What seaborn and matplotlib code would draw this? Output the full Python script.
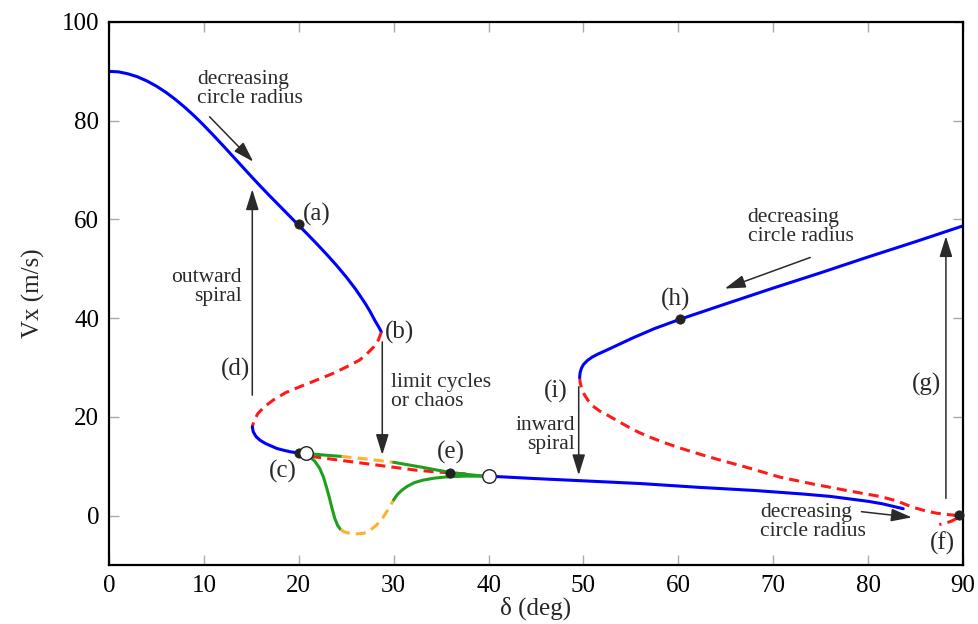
import matplotlib
matplotlib.use("Agg")
import matplotlib.pyplot as plt
import seaborn as sns
import pandas as pd

# ---------------- data ----------------
# upper-left stable branch (blue), delta from 0 to point (b)
up_left_x = [0, 1, 2, 3, 4, 5, 6, 7, 8, 9, 10, 11, 12, 13, 14, 15, 16, 17, 18, 19, 20,
             21, 22, 23, 24, 25, 26, 27, 27.5, 28, 28.4, 28.6, 28.7]
up_left_y = [90.0, 89.9, 89.5, 88.9, 88.05, 87.0, 85.75, 84.3, 82.7, 80.95, 79.05, 77.05,
             75.0, 72.9, 70.8, 68.7, 66.65, 64.65, 62.7, 60.75, 58.8, 56.85, 54.85, 52.8,
             50.65, 48.35, 45.85, 43.0, 41.4, 39.6, 38.3, 37.6, 37.2]

# unstable middle branch (red dashed) from (b) back to the fold near 15 deg
mid_red_x = [28.7, 28.4, 27.9, 27.2, 26.4, 25.0, 23.6, 21.8, 20.1, 18.6, 17.3, 16.4, 15.7, 15.3, 15.1]
mid_red_y = [37.2, 35.6, 34.2, 32.8, 31.5, 30.1, 28.8, 27.4, 26.1, 24.9, 23.4, 22.1, 20.7, 19.3, 18.0]

# lower-left stable part (blue) from the fold to (c)
low_left_x = [15.1, 15.2, 15.5, 15.9, 16.5, 17.1, 17.7, 18.5, 19.2, 20.0]
low_left_y = [18.0, 17.0, 16.0, 15.3, 14.6, 14.1, 13.6, 13.2, 12.9, 12.7]

# periodic-orbit branches (green solid / orange dashed)
po_up_green1_x = [20.8, 22.5, 24.5]
po_up_green1_y = [12.6, 12.3, 12.0]
po_up_orange_x = [24.5, 27.0, 30.0]
po_up_orange_y = [12.0, 11.5, 10.8]
po_up_green2_x = [30.0, 31.5, 33.0, 34.5, 36.0, 37.0, 38.0, 39.0, 40.0]
po_up_green2_y = [10.8, 10.3, 9.8, 9.25, 8.75, 8.5, 8.3, 8.1, 8.0]

po_low_green1_x = [20.8, 21.2, 21.7, 22.2, 22.6, 22.9, 23.2, 23.5, 23.8, 24.1, 24.4]
po_low_green1_y = [12.6, 11.9, 11.0, 9.6, 7.8, 5.9, 3.8, 1.5, -0.6, -2.0, -2.8]
po_low_orange_x = [24.4, 24.8, 25.4, 26.1, 26.8, 27.5, 28.2, 28.9, 29.5, 30.0]
po_low_orange_y = [-2.8, -3.3, -3.6, -3.7, -3.6, -3.0, -1.9, -0.3, 1.5, 3.2]
po_low_green2_x = [30.0, 30.4, 30.9, 31.4, 32.2, 33.1, 34.3, 35.6, 37.5, 40.0]
po_low_green2_y = [3.2, 4.3, 5.2, 5.9, 6.7, 7.2, 7.6, 7.85, 8.0, 8.0]

# unstable branch (red dashed) between (c) and (e)
ce_red_x = [21.3, 24.0, 26.8, 29.6, 32.4, 35.2, 38.0]
ce_red_y = [12.0, 11.3, 10.6, 9.9, 9.2, 8.75, 8.4]

# lower-right stable branch (blue)
low_right_x = [40, 45, 50, 56, 62, 68, 73, 76, 78, 80, 81.5, 83.7]
low_right_y = [8.0, 7.5, 7.05, 6.5, 5.75, 5.1, 4.4, 3.9, 3.4, 2.9, 2.4, 1.4]

# unstable right branch (red dashed) from (i) to (f)
right_red_x = [49.6, 49.65, 49.8, 50.1, 50.5, 51.0, 51.7, 52.4, 53.5, 54.6, 55.8, 57.0, 58.5,
               60.0, 62.0, 64.5, 67.0, 70.7, 74.2, 78.0, 81.2, 83.0, 84.7, 86.0, 87.2, 88.5,
               89.6, 89.3, 88.8, 88.2, 87.5]
right_red_y = [28.0, 27.0, 25.8, 24.5, 23.3, 22.2, 21.2, 20.5, 19.3, 18.1, 16.9, 15.9, 14.8,
               13.8, 12.6, 11.2, 9.9, 7.8, 6.4, 5.0, 3.9, 3.0, 1.7, 1.0, 0.5, 0.2,
               0.0, -0.6, -1.1, -1.5, -1.8]

# upper-right stable branch (blue)
up_right_x = [49.6, 49.65, 49.8, 50.0, 50.4, 50.9, 51.5, 52.3, 53.2, 54.2, 55.2, 57.5, 60.2,
              65, 70, 75, 80, 85, 90]
up_right_y = [28.0, 29.0, 29.9, 30.6, 31.4, 32.1, 32.7, 33.4, 34.2, 35.1, 36.0, 37.9, 39.8,
              42.9, 46.1, 49.2, 52.4, 55.5, 58.7]

# labelled points
dot_x = [20.0, 20.0, 35.9, 60.2, 89.6]
dot_y = [59.0, 12.7, 8.7, 39.8, 0.1]
hopf_x = [20.8, 40.0]
hopf_y = [12.6, 8.0]

letters = ["(a)", "(b)", "(c)", "(d)", "(e)", "(f)", "(g)", "(h)", "(i)"]
letter_x = [20.4, 29.1, 18.3, 13.3, 36.0, 87.8, 86.2, 59.7, 47.1]
letter_y = [61.0, 37.2, 8.9, 29.7, 12.9, -5.6, 26.5, 43.7, 25.2]

x_ticks = [0, 10, 20, 30, 40, 50, 60, 70, 80, 90]
y_ticks = [0, 20, 40, 60, 80, 100]

# ---------------- style ----------------
sns.set_theme(style="ticks")
plt.rcParams["font.family"] = ["Liberation Serif", "DejaVu Serif"]

BLUE = "#0000ff"
RED = "#ff1a1a"
GREEN = "#1ea01e"
ORANGE = "#ffb030"
TXT = "#2a2a2a"

fig = plt.figure(figsize=(9.79, 6.24), dpi=100)
ax = fig.add_axes([109 / 979, 59 / 624, 854 / 979, 543 / 624])

LW = 2.2
DASH = (0, (3.3, 2.0))


def seg(xs, ys, color, dashed=False, z=2):
    df = pd.DataFrame({"x": xs, "y": ys})
    kw = dict(linestyle=DASH) if dashed else dict(linestyle="-")
    sns.lineplot(data=df, x="x", y="y", sort=False, estimator=None, color=color,
                 lw=LW, ax=ax, zorder=z, solid_joinstyle="round", **kw)


seg(up_left_x, up_left_y, BLUE)
seg(mid_red_x, mid_red_y, RED, dashed=True)
seg(low_left_x, low_left_y, BLUE)
seg(ce_red_x, ce_red_y, RED, dashed=True)
seg(po_up_green1_x, po_up_green1_y, GREEN, z=3)
seg(po_up_orange_x, po_up_orange_y, ORANGE, dashed=True, z=3)
seg(po_up_green2_x, po_up_green2_y, GREEN, z=3)
seg(po_low_green1_x, po_low_green1_y, GREEN)
seg(po_low_orange_x, po_low_orange_y, ORANGE, dashed=True)
seg(po_low_green2_x, po_low_green2_y, GREEN)
seg(low_right_x, low_right_y, BLUE)
seg(right_red_x, right_red_y, RED, dashed=True)
seg(up_right_x, up_right_y, BLUE)

sns.scatterplot(x=dot_x, y=dot_y, ax=ax, s=45, color="#222222", edgecolor="#222222",
                zorder=6, clip_on=False)
sns.scatterplot(x=hopf_x, y=hopf_y, ax=ax, s=95, color="white", edgecolor="#222222",
                linewidth=1.0, zorder=7, clip_on=False)

# letters
for t, xx, yy in zip(letters, letter_x, letter_y):
    ax.text(xx, yy, t, fontsize=18, color=TXT, ha="center" if t not in ("(a)", "(b)") else "left",
            va="center", zorder=8)

# annotation texts
ANN = 15.5
ax.text(9.27, 86.4, "decreasing\ncircle radius", fontsize=ANN, color=TXT, ha="left", va="center",
        linespacing=1.0)
ax.text(14.0, 46.4, "outward\nspiral", fontsize=ANN, color=TXT, ha="right", va="center",
        multialignment="right", linespacing=1.0)
ax.text(29.7, 25.0, "limit cycles\nor chaos", fontsize=ANN, color=TXT, ha="left", va="center",
        linespacing=1.0)
ax.text(49.1, 16.3, "inward\nspiral", fontsize=ANN, color=TXT, ha="right", va="center",
        multialignment="right", linespacing=1.0)
ax.text(67.3, 58.4, "decreasing\ncircle radius", fontsize=ANN, color=TXT, ha="left", va="center",
        linespacing=1.0)
ax.text(68.6, -1.2, "decreasing\ncircle radius", fontsize=ANN, color=TXT, ha="left", va="center",
        linespacing=1.0)

# arrows
AP = dict(arrowstyle="-|>,head_length=0.9,head_width=0.28", color=TXT, lw=1.1,
          shrinkA=0, shrinkB=0, mutation_scale=14)
arrows = [((10.6, 80.8), (15.2, 71.7)),
          ((15.1, 24.4), (15.1, 66.1)),
          ((28.8, 35.2), (28.8, 12.3)),
          ((49.5, 26.1), (49.5, 8.2)),
          ((88.2, 3.5), (88.2, 56.6)),
          ((73.9, 52.3), (64.9, 46.0)),
          ((79.3, 0.8), (84.6, -0.35))]
for (x0, y0), (x1, y1) in arrows:
    ax.annotate("", xy=(x1, y1), xytext=(x0, y0), arrowprops=AP, zorder=4)

# axes
ax.set_xlim(0, 90)
ax.set_ylim(-10, 100)
ax.set_xticks(x_ticks)
ax.set_yticks(y_ticks)
ax.set_xticklabels([str(v) for v in x_ticks])
ax.set_yticklabels([str(v) for v in y_ticks])
ax.tick_params(direction="in", length=7, width=1, color="#aaaaaa", labelsize=18,
               labelcolor="black", top=True, right=True, pad=7)
for s in ax.spines.values():
    s.set_visible(True)
    s.set_linewidth(1.6)
    s.set_color("black")
ax.set_xlabel("δ (deg)", fontsize=18, labelpad=0)
ax.set_ylabel("Vx (m/s)", fontsize=18, labelpad=12)
ax.grid(False)
ax.set_facecolor("white")

fig.savefig("out.png", dpi=100, facecolor="white")
